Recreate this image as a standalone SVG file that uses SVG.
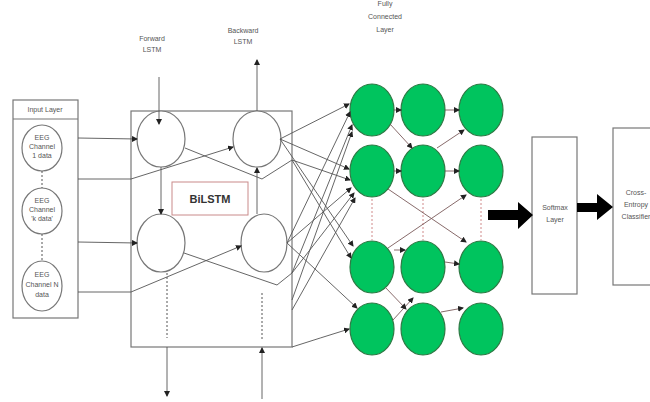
<svg xmlns="http://www.w3.org/2000/svg" width="650" height="402" viewBox="0 0 650 402">
  <style>
    .lbl { font-family: "Liberation Sans", Arial, sans-serif; font-size: 7px; fill: #555; text-anchor: middle; }
    .box { fill: #fff; stroke: #777; stroke-width: 1.2; }
    .cell { fill: #fff; stroke: #777; stroke-width: 1.2; }
    .green { fill: #00c45e; stroke: #2f7a45; stroke-width: 1.2; }
    .wire { fill: none; stroke: #555; stroke-width: 0.9; }
    .fc { fill: none; stroke: #7a5a5a; stroke-width: 0.9; }
    .dots { fill: none; stroke: #555; stroke-width: 1; stroke-dasharray: 2 2; }
    .pdots { fill: none; stroke: #d08a8a; stroke-width: 1; stroke-dasharray: 2 2; }
  </style>
  <defs>
    <marker id="ah" markerWidth="6" markerHeight="6" refX="5" refY="3" orient="auto" markerUnits="userSpaceOnUse">
      <path d="M0,0 L6,3 L0,6 Z" fill="#222"/>
    </marker>
  </defs>
  <rect width="650" height="402" fill="#fff"/>

  <!-- input layer -->
  <g id="input-layer">
    <rect class="box" x="13" y="100" width="65" height="218"/>
    <line x1="13" y1="119" x2="78" y2="119" stroke="#777" stroke-width="1.2"/>
    <text class="lbl" x="45" y="112">Input Layer</text>
  </g>
  <g id="eeg-1">
    <ellipse class="cell" cx="42" cy="148" rx="20" ry="23"/>
    <text class="lbl" x="42" y="140">EEG</text>
    <text class="lbl" x="42" y="149">Channel</text>
    <text class="lbl" x="42" y="158">1 data</text>
  </g>
  <g id="eeg-k">
    <ellipse class="cell" cx="42" cy="211" rx="20" ry="23"/>
    <text class="lbl" x="42" y="203">EEG</text>
    <text class="lbl" x="42" y="212">Channel</text>
    <text class="lbl" x="42" y="221">'k data'</text>
  </g>
  <g id="eeg-n">
    <ellipse class="cell" cx="42" cy="286" rx="20" ry="25"/>
    <text class="lbl" x="42" y="277">EEG</text>
    <text class="lbl" x="42" y="287">Channel N</text>
    <text class="lbl" x="42" y="297">data</text>
  </g>

  <!-- BiLSTM block -->
  <g id="bilstm">
    <rect class="box" x="131" y="111" width="161" height="236"/>
    <rect x="172" y="182" width="76" height="33" fill="#fff" stroke="#c98a8a" stroke-width="1"/>
    <text x="210" y="203" font-family="'Liberation Sans', Arial, sans-serif" font-size="11" font-weight="bold" fill="#333" text-anchor="middle">BiLSTM</text>
  </g>
  <g id="fwd-1"><ellipse class="cell" cx="161" cy="139" rx="24" ry="28"/></g>
  <g id="bwd-1"><ellipse class="cell" cx="257" cy="139" rx="24" ry="28"/></g>
  <g id="fwd-2"><ellipse class="cell" cx="161" cy="243" rx="24" ry="29"/></g>
  <g id="bwd-2"><ellipse class="cell" cx="264" cy="243" rx="23" ry="29"/></g>

  <g id="lstm-labels">
    <text class="lbl" x="152" y="41">Forward</text>
    <text class="lbl" x="152" y="52">LSTM</text>
    <text class="lbl" x="243" y="33">Backward</text>
    <text class="lbl" x="243" y="44">LSTM</text>
  </g>

  <!-- fully connected layer -->
  <g id="fc-label">
    <text class="lbl" x="385" y="6">Fully</text>
    <text class="lbl" x="385" y="19">Connected</text>
    <text class="lbl" x="385" y="32">Layer</text>
  </g>
  <g id="fc-r1c1"><ellipse class="green" cx="372" cy="110" rx="22" ry="26"/></g>
  <g id="fc-r1c2"><ellipse class="green" cx="423" cy="110" rx="22" ry="26"/></g>
  <g id="fc-r1c3"><ellipse class="green" cx="481" cy="110" rx="22" ry="26"/></g>
  <g id="fc-r2c1"><ellipse class="green" cx="372" cy="171" rx="22" ry="26"/></g>
  <g id="fc-r2c2"><ellipse class="green" cx="423" cy="171" rx="22" ry="26"/></g>
  <g id="fc-r2c3"><ellipse class="green" cx="481" cy="171" rx="22" ry="26"/></g>
  <g id="fc-r3c1"><ellipse class="green" cx="372" cy="267" rx="22" ry="26"/></g>
  <g id="fc-r3c2"><ellipse class="green" cx="423" cy="267" rx="22" ry="26"/></g>
  <g id="fc-r3c3"><ellipse class="green" cx="481" cy="267" rx="22" ry="26"/></g>
  <g id="fc-r4c1"><ellipse class="green" cx="372" cy="329" rx="22" ry="26"/></g>
  <g id="fc-r4c2"><ellipse class="green" cx="423" cy="329" rx="22" ry="26"/></g>
  <g id="fc-r4c3"><ellipse class="green" cx="481" cy="329" rx="22" ry="26"/></g>

  <!-- output stages -->
  <g id="softmax">
    <rect class="box" x="532" y="137" width="45" height="157"/>
    <text class="lbl" x="555" y="210">Softmax</text>
    <text class="lbl" x="555" y="222">Layer</text>
  </g>
  <g id="classifier">
    <rect class="box" x="613" y="128" width="45" height="157"/>
    <text class="lbl" x="636" y="195">Cross-</text>
    <text class="lbl" x="636" y="207">Entropy</text>
    <text class="lbl" x="636" y="219">Classifier</text>
  </g>

  <g id="connectors">
    <!-- dotted continuations -->
    <line class="dots" x1="42" y1="171" x2="42" y2="188"/>
    <line class="dots" x1="42" y1="234" x2="42" y2="261"/>
    <line class="dots" x1="167" y1="273" x2="167" y2="338"/>
    <line class="dots" x1="262" y1="293" x2="262" y2="340"/>
    <line class="pdots" x1="372" y1="199" x2="372" y2="240"/>
    <line class="pdots" x1="423" y1="199" x2="423" y2="240"/>
    <line class="pdots" x1="481" y1="199" x2="481" y2="240"/>

    <!-- input to BiLSTM -->
    <polyline class="wire" points="78,138 137,139" marker-end="url(#ah)"/>
    <polyline class="wire" points="78,179 131,179 233,147" marker-end="url(#ah)"/>
    <polyline class="wire" points="78,242 137,243" marker-end="url(#ah)"/>
    <polyline class="wire" points="78,292 131,292 241,246" marker-end="url(#ah)"/>

    <!-- forward / backward chains -->
    <line class="wire" x1="159" y1="77" x2="159" y2="124" marker-end="url(#ah)"/>
    <line class="wire" x1="257" y1="111" x2="257" y2="60" marker-end="url(#ah)"/>
    <line class="wire" x1="161" y1="167" x2="161" y2="214" marker-end="url(#ah)"/>
    <line class="wire" x1="257" y1="214" x2="257" y2="168" marker-end="url(#ah)"/>
    <line class="wire" x1="167" y1="347" x2="167" y2="396" marker-end="url(#ah)"/>
    <line class="wire" x1="262" y1="399" x2="262" y2="348" marker-end="url(#ah)"/>
    <polyline class="wire" points="185,148 262,179 292,160"/>
    <polyline class="wire" points="184,253 277,285 292,273"/>

    <!-- BiLSTM outputs to first dense column -->
    <line class="wire" x1="280" y1="139" x2="349" y2="104" marker-end="url(#ah)"/>
    <line class="wire" x1="280" y1="139" x2="349" y2="169" marker-end="url(#ah)"/>
    <line class="wire" x1="280" y1="139" x2="353" y2="246" marker-end="url(#ah)"/>
    <line class="wire" x1="292" y1="160" x2="350" y2="180" marker-end="url(#ah)"/>
    <line class="wire" x1="292" y1="160" x2="351" y2="258" marker-end="url(#ah)"/>
    <line class="wire" x1="287" y1="243" x2="350" y2="112" marker-end="url(#ah)"/>
    <line class="wire" x1="287" y1="243" x2="351" y2="188" marker-end="url(#ah)"/>
    <line class="wire" x1="287" y1="243" x2="357" y2="308" marker-end="url(#ah)"/>
    <line class="wire" x1="292" y1="273" x2="352" y2="125" marker-end="url(#ah)"/>
    <line class="wire" x1="292" y1="273" x2="354" y2="193" marker-end="url(#ah)"/>
    <line class="wire" x1="292" y1="300" x2="352" y2="132" marker-end="url(#ah)"/>
    <line class="wire" x1="292" y1="310" x2="355" y2="198" marker-end="url(#ah)"/>
    <path class="wire" d="M292,347 Q320,338 349,329" marker-end="url(#ah)"/>

    <!-- dense layer links -->
    <line class="fc" x1="394" y1="110" x2="401" y2="110" marker-end="url(#ah)"/>
    <line class="fc" x1="445" y1="110" x2="459" y2="110" marker-end="url(#ah)"/>
    <line class="fc" x1="394" y1="171" x2="401" y2="171" marker-end="url(#ah)"/>
    <line class="fc" x1="445" y1="171" x2="459" y2="171" marker-end="url(#ah)"/>
    <line class="fc" x1="390" y1="124" x2="412" y2="148" marker-end="url(#ah)"/>
    <line class="fc" x1="437" y1="148" x2="464" y2="130" marker-end="url(#ah)"/>
    <line class="fc" x1="388" y1="189" x2="466" y2="242" marker-end="url(#ah)"/>
    <line class="fc" x1="388" y1="248" x2="466" y2="195" marker-end="url(#ah)"/>
    <line class="fc" x1="394" y1="250" x2="405" y2="250" marker-end="url(#ah)"/>
    <line class="fc" x1="445" y1="262" x2="459" y2="264" marker-end="url(#ah)"/>
    <line class="fc" x1="393" y1="320" x2="413" y2="298" marker-end="url(#ah)"/>
    <line class="fc" x1="441" y1="312" x2="463" y2="308" marker-end="url(#ah)"/>
    <line class="fc" x1="385" y1="287" x2="406" y2="309" marker-end="url(#ah)"/>

    <!-- block arrows -->
    <path d="M488,210 L518,210 L518,202 L533,215 L518,229 L518,220 L488,220 Z" fill="#000"/>
    <path d="M577,203 L597,203 L597,194 L613,207 L597,220 L597,212 L577,212 Z" fill="#000"/>
  </g>
</svg>
